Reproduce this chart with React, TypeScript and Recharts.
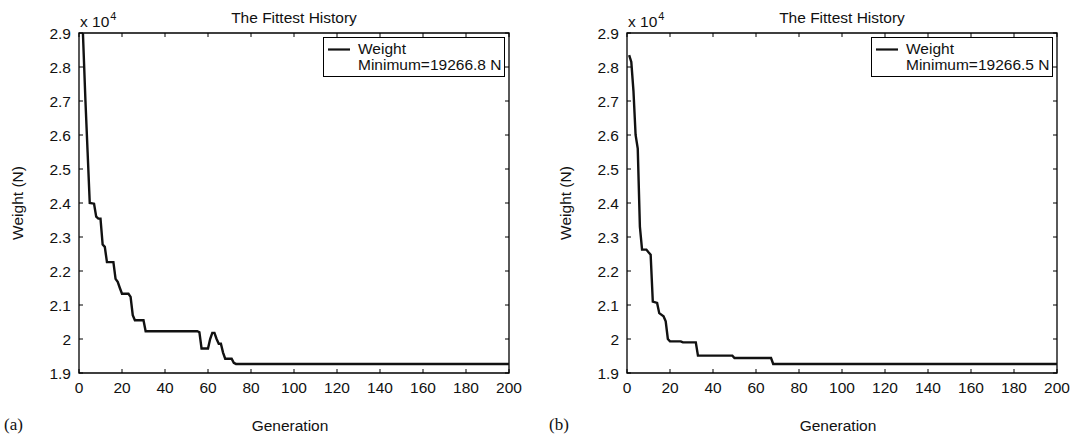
import React from 'react';
import { LineChart, Line, XAxis, YAxis, Legend, ReferenceArea } from 'recharts';

// Generation breakpoints and best weight (N) — chart (a)
const genA = [1, 2, 3, 4, 5, 7, 8, 9, 10, 11, 12, 13, 16, 17, 18, 19, 20, 23, 24, 25, 26, 30, 31, 55, 56, 57, 60, 61, 62, 63, 64, 65, 66, 67, 68, 71, 72, 73, 200];
const weightA = [30400, 28700, 27000, 25500, 24000, 23980, 23600, 23540, 23540, 22780, 22710, 22260, 22260, 21770, 21680, 21500, 21330, 21330, 21240, 20700, 20550, 20550, 20230, 20230, 20200, 19720, 19720, 20000, 20180, 20180, 20000, 19860, 19860, 19600, 19420, 19420, 19300, 19266.8, 19266.8];

// Generation breakpoints and best weight (N) — chart (b)
const genB = [1, 2, 3, 4, 5, 6, 7, 9, 10, 11, 12, 14, 15, 17, 18, 19, 20, 25, 26, 32, 33, 49, 50, 67, 68, 200];
const weightB = [28350, 28150, 27300, 26000, 25600, 23300, 22630, 22630, 22550, 22480, 21100, 21060, 20760, 20670, 20520, 20000, 19930, 19930, 19900, 19900, 19510, 19510, 19440, 19440, 19266.5, 19266.5];

const xTicks = [0, 20, 40, 60, 80, 100, 120, 140, 160, 180, 200];
const yTicks = [19000, 20000, 21000, 22000, 23000, 24000, 25000, 26000, 27000, 28000, 29000];

const titleText = 'The Fittest History';
const xLabel = 'Generation';
const yLabel = 'Weight (N)';
const seriesName = 'Weight';
const minTextA = 'Minimum=19266.8 N';
const minTextB = 'Minimum=19266.5 N';
const panelLabels = ['(a)', '(b)'];

const FONT = '"Liberation Sans", Arial, Helvetica, sans-serif';
const FS = 15.5;
const INK = '#111';
const PLOT_W = 430;
const PLOT_H = 340;
const TICK_LEN = 4;

const makeData = (g: number[], w: number[]) => g.map((gen, i) => ({ gen, w: w[i] }));

function XTick(props: any) {
  const { x, y, payload } = props;
  return (
    <g>
      <line x1={x} x2={x} y1={y} y2={y - TICK_LEN} stroke="#000" strokeWidth={1} />
      <line x1={x} x2={x} y1={y - PLOT_H} y2={y - PLOT_H + TICK_LEN} stroke="#000" strokeWidth={1} />
      <text x={x} y={y + 9} dy="0.71em" textAnchor="middle" fontSize={FS} fontFamily={FONT} fill={INK}>
        {String(payload.value)}
      </text>
    </g>
  );
}

function YTick(props: any) {
  const { x, y, payload } = props;
  const label = String(Math.round(payload.value / 1000) / 10);
  return (
    <g>
      <line x1={x} x2={x + TICK_LEN} y1={y} y2={y} stroke="#000" strokeWidth={1} />
      <line x1={x + PLOT_W} x2={x + PLOT_W - TICK_LEN} y1={y} y2={y} stroke="#000" strokeWidth={1} />
      <text x={x - 8} y={y} dy="0.355em" textAnchor="end" fontSize={FS} fontFamily={FONT} fill={INK}>
        {label}
      </text>
    </g>
  );
}

function LegendBox({ minText }: { minText: string }) {
  return (
    <svg width={182} height={40} style={{ display: 'block' }}>
      <rect x={0.5} y={0.5} width={181} height={39} fill="#fff" stroke="#000" strokeWidth={1} />
      <line x1={5} x2={27} y1={12.5} y2={12.5} stroke={INK} strokeWidth={2.2} />
      <text x={35} y={16.5} fontSize={FS} fontFamily={FONT} fill={INK}>{seriesName}</text>
      <text x={35} y={33} fontSize={FS} fontFamily={FONT} fill={INK}>{minText}</text>
    </svg>
  );
}

function HistoryChart({ left, width, data, minText }: { left: number; width: number; data: any[]; minText: string }) {
  return (
    <div style={{ position: 'absolute', left, top: 0 }}>
      <LineChart width={width} height={435} data={data} margin={{ top: 33, right: width - 509, bottom: 32, left: 29 }}>
        <XAxis
          xAxisId="b"
          dataKey="gen"
          type="number"
          domain={[0, 200]}
          ticks={xTicks}
          interval={0}
          height={30}
          tickSize={0}
          tickMargin={0}
          axisLine={false}
          tickLine={false}
          tick={<XTick />}
          allowDataOverflow
        />
        <YAxis
          yAxisId="l"
          type="number"
          domain={[19000, 29000]}
          ticks={yTicks}
          interval={0}
          width={50}
          tickSize={0}
          tickMargin={0}
          axisLine={false}
          tickLine={false}
          tick={<YTick />}
          allowDataOverflow
        />
        <ReferenceArea
          xAxisId="b"
          yAxisId="l"
          x1={0}
          x2={200}
          y1={19000}
          y2={29000}
          fill="none"
          fillOpacity={0}
          stroke="#000"
          strokeWidth={1.3}
          ifOverflow="visible"
        />
        <Line
          xAxisId="b"
          yAxisId="l"
          dataKey="w"
          name={seriesName}
          type="linear"
          stroke={INK}
          strokeWidth={2.4}
          dot={false}
          isAnimationActive={false}
        />
        <Legend
          layout="horizontal"
          verticalAlign="middle"
          align="center"
          wrapperStyle={{ left: 323, top: 37, width: 182, height: 40 }}
          content={() => <LegendBox minText={minText} />}
        />
      </LineChart>
    </div>
  );
}

export default function App() {
  const dataA = makeData(genA, weightA);
  const dataB = makeData(genB, weightB);
  const offsets = [0, 548];
  return (
    <div style={{ position: 'absolute', left: 0, top: 0, width: 1077, height: 435, overflow: 'hidden', background: '#fff' }}>
      <HistoryChart left={0} width={540} data={dataA} minText={minTextA} />
      <HistoryChart left={548} width={529} data={dataB} minText={minTextB} />
      <svg width={1077} height={435} style={{ position: 'absolute', left: 0, top: 0, pointerEvents: 'none' }}>
        {offsets.map((o, i) => (
          <g key={i} fontFamily={FONT} fill={INK}>
            <text x={o + 294} y={23} fontSize={FS} textAnchor="middle">{titleText}</text>
            <text x={o + 80} y={27} fontSize={FS}>
              x 10<tspan fontSize={11} dy={-7} dx={1}>4</tspan>
            </text>
            <text x={o + 23} y={203} fontSize={FS} textAnchor="middle" transform={`rotate(-90 ${o + 23} 203)`}>{yLabel}</text>
            <text x={o + 290} y={431} fontSize={FS} textAnchor="middle">{xLabel}</text>
            <text x={i === 0 ? 4 : 549} y={430} fontSize={17} fontFamily='"Liberation Serif", "Times New Roman", serif'>{panelLabels[i]}</text>
          </g>
        ))}
      </svg>
    </div>
  );
}
